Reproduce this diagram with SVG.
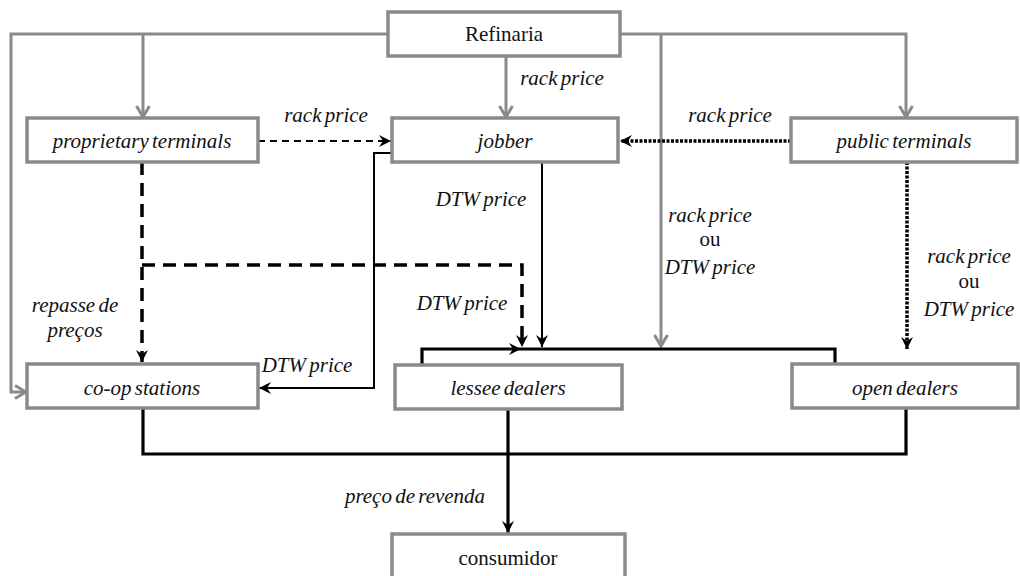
<svg xmlns="http://www.w3.org/2000/svg" width="1020" height="576" viewBox="0 0 1020 576">
  <style>
    .box { fill: #ffffff; stroke: #8a8a8a; stroke-width: 3.5; }
    .lbl { font-family: "Liberation Serif", "Times New Roman", "DejaVu Serif", serif; font-size: 21px; fill: #111; text-anchor: middle; word-spacing: -2px; }
    .it { font-style: italic; }
    .grey { fill: none; stroke: #8a8a8a; stroke-width: 3; }
    .blk { fill: none; stroke: #000; stroke-width: 2; }
    .thick { fill: none; stroke: #000; stroke-width: 3.2; }
    .dash { fill: none; stroke: #000; stroke-width: 2.2; stroke-dasharray: 7 5; }
    .dashbig { fill: none; stroke: #000; stroke-width: 3.5; stroke-dasharray: 13 8; }
    .dot { fill: none; stroke: #000; stroke-width: 3.5; stroke-dasharray: 3 1.5; }
  </style>
  <defs>
    <marker id="ag" markerUnits="userSpaceOnUse" viewBox="-1 -8 14 16" refX="11" refY="0" markerWidth="14" markerHeight="16" orient="auto">
      <path d="M0,-6.5 L11,0 L0,6.5" fill="none" stroke="#8a8a8a" stroke-width="3"/>
    </marker>
    <marker id="ab" markerUnits="userSpaceOnUse" viewBox="0 -7 13 14" refX="12" refY="0" markerWidth="13" markerHeight="14" orient="auto">
      <path d="M0,-6 L12,0 L0,6 L4,0 z" fill="#000"/>
    </marker>
  </defs>

  <!-- connectors -->
  <g id="connectors">
    <!-- refinery supply lines -->
    <path class="grey" d="M388,34 H11 V392 H26" marker-end="url(#ag)"/>
    <path class="grey" d="M143,34 V117" marker-end="url(#ag)"/>
    <path class="grey" d="M506,56 V117" marker-end="url(#ag)"/>
    <path class="grey" d="M620,34 H906 V117" marker-end="url(#ag)"/>
    <path class="grey" d="M661,34 V346" marker-end="url(#ag)"/>

    <!-- terminals to jobber -->
    <path class="dash" d="M258,141 H391" marker-end="url(#ab)"/>
    <path class="dot" d="M791,141 H620" marker-end="url(#ab)"/>

    <!-- proprietary terminals pass-through -->
    <path class="dashbig" d="M142,162 V362" marker-end="url(#ab)"/>
    <path class="dashbig" d="M142,265 H522 V347" marker-end="url(#ab)"/>

    <!-- jobber DTW deliveries -->
    <path class="blk" d="M392,153 H374 V388 H259" marker-end="url(#ab)"/>
    <path class="blk" d="M542,162 V347" marker-end="url(#ab)"/>

    <!-- public terminals to open dealers -->
    <path class="dot" d="M907,162 V349" marker-end="url(#ab)"/>

    <!-- distribution bar over dealers -->
    <path class="thick" d="M422,365 V349 H835 V364"/>
    <path class="blk" d="M422,349 H521" marker-end="url(#ab)"/>

    <!-- resale to consumer -->
    <path class="thick" d="M143,408 V454 H906 V406"/>
    <path class="thick" d="M508,408 V533" marker-end="url(#ab)"/>
  </g>

  <!-- connector labels -->
  <g id="labels">
    <text class="lbl it" x="562" y="85">rack price</text>
    <text class="lbl it" x="326" y="122">rack price</text>
    <text class="lbl it" x="730" y="122">rack price</text>
    <text class="lbl it" x="481" y="206">DTW price</text>
    <text class="lbl it" x="710" y="222">rack price</text>
    <text class="lbl" x="710" y="246">ou</text>
    <text class="lbl it" x="710" y="274">DTW price</text>
    <text class="lbl it" x="969" y="263">rack price</text>
    <text class="lbl" x="969" y="288">ou</text>
    <text class="lbl it" x="969" y="316">DTW price</text>
    <text class="lbl it" x="462" y="310">DTW price</text>
    <text class="lbl it" x="75" y="312">repasse de</text>
    <text class="lbl it" x="75" y="337">preços</text>
    <text class="lbl it" x="307" y="372">DTW price</text>
    <text class="lbl it" x="415" y="503">preço de revenda</text>
  </g>

  <!-- nodes -->
  <g id="refinaria">
    <rect class="box" x="388" y="12" width="232" height="44"/>
    <text class="lbl" x="504" y="41">Refinaria</text>
  </g>
  <g id="proprietary-terminals">
    <rect class="box" x="27" y="118" width="231" height="44"/>
    <text class="lbl it" x="142" y="148">proprietary terminals</text>
  </g>
  <g id="jobber">
    <rect class="box" x="392" y="118" width="226" height="44"/>
    <text class="lbl it" x="505" y="148">jobber</text>
  </g>
  <g id="public-terminals">
    <rect class="box" x="791" y="118" width="226" height="44"/>
    <text class="lbl it" x="904" y="148">public terminals</text>
  </g>
  <g id="co-op-stations">
    <rect class="box" x="27" y="364" width="231" height="44"/>
    <text class="lbl it" x="142" y="395">co-op stations</text>
  </g>
  <g id="lessee-dealers">
    <rect class="box" x="395" y="365" width="227" height="44"/>
    <text class="lbl it" x="508" y="395">lessee dealers</text>
  </g>
  <g id="open-dealers">
    <rect class="box" x="792" y="364" width="226" height="44"/>
    <text class="lbl it" x="905" y="395">open dealers</text>
  </g>
  <g id="consumidor">
    <rect class="box" x="392" y="534" width="233" height="44"/>
    <text class="lbl" x="508" y="565">consumidor</text>
  </g>
</svg>
